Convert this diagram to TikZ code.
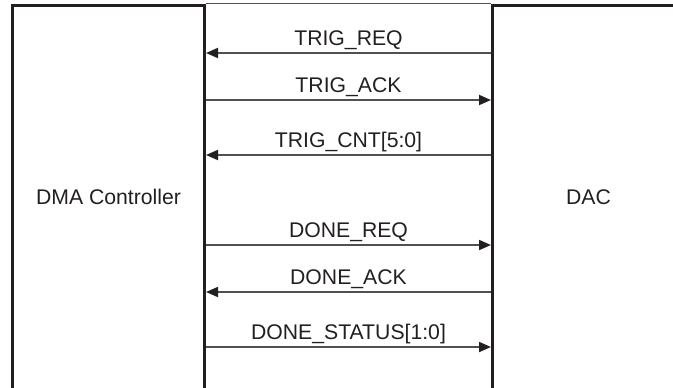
\documentclass[tikz,border=0pt]{standalone}
\usepackage{fontspec}
\setmainfont{Liberation Sans}
\usetikzlibrary{arrows.meta}
\definecolor{ink}{HTML}{231F20}
\definecolor{wire}{HTML}{505050}
\tikzset{
  every node/.style={font=\fontsize{10.6}{12}\selectfont, text=ink},
  block/.style={draw=ink, line width=1.5pt, minimum width=96pt, minimum height=192pt,
                inner sep=0pt, anchor=north west},
  frame/.style={draw=wire, line width=0.6pt},
  sig/.style={draw=wire, line width=0.9pt},
  toright/.style={sig, -{Triangle[length=6pt, width=5pt, color=ink]}},
  toleft/.style={sig, {Triangle[length=6pt, width=5pt, color=ink]}-},
  lbl/.style={midway, anchor=base, yshift=4pt, inner sep=0pt},
}

\begin{document}
\begin{tikzpicture}[x=0.5pt, y=-0.5pt]
\useasboundingbox (0,0) rectangle (673,387);
\clip (0,0) rectangle (673,387);

\node[block] (dma) at (11,3.5) {DMA Controller};
\node[block] (dac) at (491,3.5) {DAC};

\draw[frame] (dma.north east) -- (dac.north west);

\draw[toleft]  (dma.east |- 0,53)  -- node[lbl]{TRIG\_REQ} (dac.west |- 0,53);
\draw[toright] (dma.east |- 0,100) -- node[lbl]{TRIG\_ACK} (dac.west |- 0,100);
\draw[toleft]  (dma.east |- 0,155) -- node[lbl]{TRIG\_CNT[5:0]} (dac.west |- 0,155);
\draw[toright] (dma.east |- 0,245) -- node[lbl]{DONE\_REQ} (dac.west |- 0,245);
\draw[toleft]  (dma.east |- 0,292) -- node[lbl]{DONE\_ACK} (dac.west |- 0,292);
\draw[toright] (dma.east |- 0,347) -- node[lbl]{DONE\_STATUS[1:0]} (dac.west |- 0,347);

\end{tikzpicture}
\end{document}
